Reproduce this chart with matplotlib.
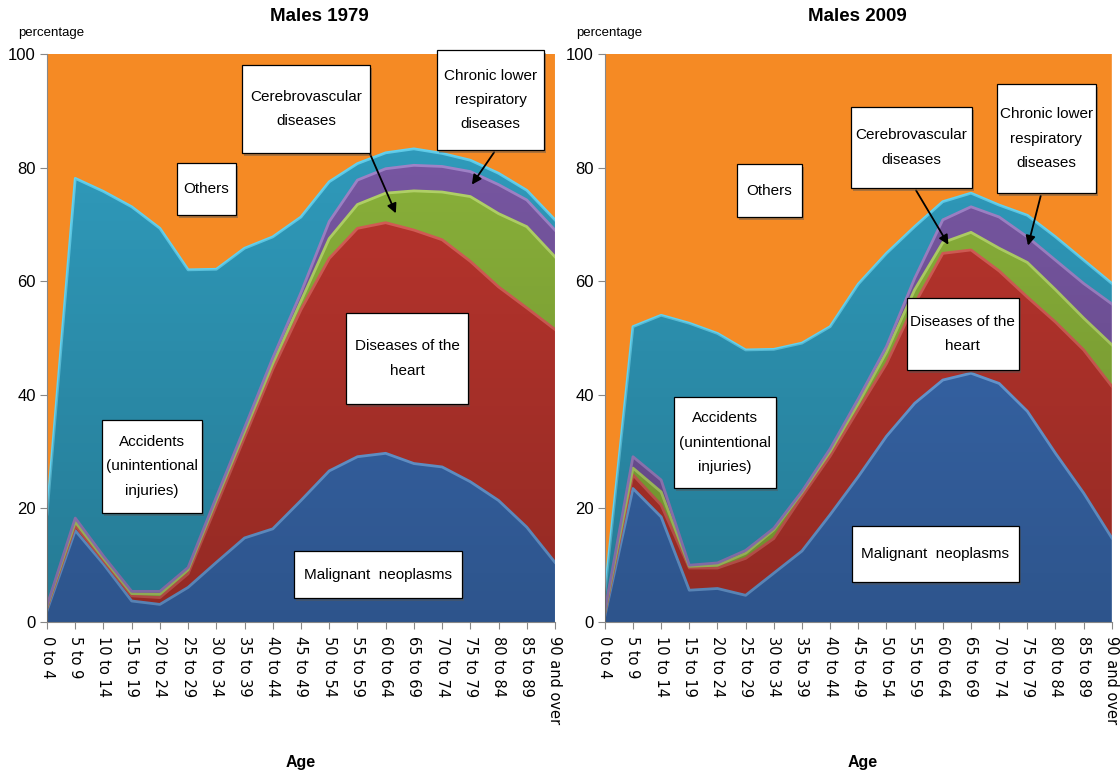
import numpy as np
import matplotlib.pyplot as plt
from matplotlib.patches import Polygon, Rectangle

plt.rcParams['font.family'] = ['Liberation Sans', 'DejaVu Sans']

ages = ['0 to 4', '5 to 9', '10 to 14', '15 to 19', '20 to 24', '25 to 29', '30 to 34',
        '35 to 39', '40 to 44', '45 to 49', '50 to 54', '55 to 59', '60 to 64', '65 to 69',
        '70 to 74', '75 to 79', '80 to 84', '85 to 89', '90 and over']

# share of deaths (%) by cause, males 1979
malignant79 = [2.0, 16.1, 10.2, 3.7, 3.1, 6.1, 10.5, 14.8, 16.4, 21.4, 26.6, 29.1, 29.7, 27.9, 27.3, 24.7, 21.4, 16.7, 10.5]
heart79 = [0.5, 0.9, 0.6, 0.9, 1.2, 2.4, 10.0, 17.7, 28.1, 33.6, 37.4, 40.2, 40.6, 41.1, 40.0, 38.8, 37.6, 38.6, 41.0]
cerebro79 = [0.2, 0.6, 0.4, 0.4, 0.6, 0.7, 1.0, 1.0, 1.0, 1.5, 3.5, 4.2, 5.2, 6.9, 8.4, 11.4, 12.9, 14.3, 12.8]
clrd79 = [0.2, 0.7, 0.4, 0.4, 0.5, 0.4, 0.5, 0.7, 1.0, 1.5, 3.0, 4.3, 4.3, 4.5, 4.5, 4.4, 5.1, 4.7, 4.7]
accidents79 = [16.1, 59.8, 64.2, 67.7, 63.9, 52.4, 40.1, 31.6, 21.3, 13.3, 7.0, 2.9, 2.8, 2.9, 2.3, 2.0, 2.0, 1.7, 1.8]

# share of deaths (%) by cause, males 2009
malignant09 = [1.0, 23.5, 18.5, 5.6, 5.9, 4.7, 8.6, 12.5, 18.9, 25.6, 32.7, 38.5, 42.6, 43.8, 42.0, 37.1, 29.7, 22.7, 14.8]
heart09 = [0.5, 2.4, 2.1, 3.9, 3.6, 6.5, 6.1, 9.6, 10.3, 11.8, 12.8, 17.5, 22.3, 21.7, 19.8, 20.1, 23.1, 25.2, 26.7]
cerebro09 = [0.2, 1.2, 2.3, 0.3, 0.5, 0.9, 1.5, 0.7, 0.8, 1.1, 2.0, 2.5, 1.9, 3.1, 4.0, 6.1, 5.7, 5.6, 7.3]
clrd09 = [0.2, 2.0, 2.1, 0.2, 0.4, 0.5, 0.3, 0.2, 0.5, 0.8, 1.0, 2.0, 4.0, 4.5, 5.5, 4.5, 5.2, 6.1, 7.2]
accidents09 = [3.1, 22.9, 29.0, 42.6, 40.4, 35.3, 31.5, 26.1, 21.5, 20.2, 16.4, 9.1, 3.2, 2.4, 2.1, 3.8, 4.1, 4.1, 3.6]

fills = ['#3C6FB8', '#C1372F', '#8FB83C', '#7C5AA8', '#31A0C2', '#F58A24']
edges = ['#72AAEA', '#E0625A', '#BADC6C', '#A688D0', '#62D2F0', '#F8A650']


def label_box(ax, x0, x1, y0, y1, s):
    # drop shadow then the white box, like the callouts in the original
    ax.add_patch(Rectangle((x0 + 0.07, y0 - 0.5), x1 - x0, y1 - y0, fc='#555555', ec='none',
                           alpha=0.45, zorder=6, clip_on=False))
    ax.add_patch(Rectangle((x0, y0), x1 - x0, y1 - y0, fc='white', ec='black', lw=0.9,
                           zorder=7, clip_on=False))
    ax.text((x0 + x1) / 2, (y0 + y1) / 2, s, ha='center', va='center', fontsize=11,
            linespacing=1.95, zorder=8)


def draw_panel(ax, title, layers, notes, arrows, title_x, age_x):
    x = np.arange(len(ages))
    layers = [np.array(v) for v in layers]
    others = 100 - np.sum(layers, axis=0)
    stack = layers + [others]
    ax.stackplot(x, *stack, colors=fills, lw=0, zorder=1)
    cum = np.cumsum(stack, axis=0)
    for top, c in zip(cum[:-1], edges):
        ax.plot(x, top, color=c, lw=2, zorder=2, solid_joinstyle='round')

    # darker toward the bottom, like the bevelled excel fill (not on "Others")
    grad = np.zeros((200, 1, 4))
    grad[:, 0, 3] = np.linspace(0.0, 0.24, 200)
    im = ax.imshow(grad, extent=[0, 18, 0, 100], aspect='auto', zorder=3)
    verts = np.column_stack([np.r_[x, x[::-1]], np.r_[cum[-2], np.zeros(len(x))]])
    clip = Polygon(verts, closed=True, fc='none', ec='none', transform=ax.transData)
    ax.add_patch(clip)
    im.set_clip_path(clip)

    for (x0, x1, y0, y1, s) in notes:
        label_box(ax, x0, x1, y0, y1, s)
    for (sx, sy, ex, ey) in arrows:
        ax.annotate('', xy=(ex, ey), xytext=(sx, sy), zorder=5,
                    arrowprops=dict(arrowstyle='-|>', color='black', lw=1.3, mutation_scale=14))

    ax.set_xlim(0, 18)
    ax.set_ylim(0, 100)
    ax.set_xticks(x)
    ax.set_xticklabels(ages, rotation=270, fontsize=10.5, family='DejaVu Sans', va='top', ha='center')
    ax.set_yticks(range(0, 101, 20))
    ax.tick_params(axis='y', labelsize=12, length=5, color='#888888', pad=3)
    ax.tick_params(axis='x', length=5, color='#888888', pad=5)
    for side in ['top', 'right']:
        ax.spines[side].set_visible(False)
    for side in ['left', 'bottom']:
        ax.spines[side].set_color('#888888')

    ax.text(title_x, 1.066, title, transform=ax.transAxes, ha='center', va='center',
            fontsize=13.5, fontweight='bold')
    ax.text(0.008, 1.037, 'percentage', transform=ax.transAxes, ha='center', va='center', fontsize=9.5)
    ax.text(age_x, -0.248, 'Age', transform=ax.transAxes, ha='center', va='center',
            fontsize=11.5, fontweight='bold')


fig = plt.figure(figsize=(11.2, 7.78), dpi=100)
ax1 = fig.add_axes([0.042, 0.2005, 0.4535, 0.7301])
ax2 = fig.add_axes([0.540, 0.2005, 0.4527, 0.7301])

draw_panel(ax1, 'Males 1979', [malignant79, heart79, cerebro79, clrd79, accidents79],
           [(4.61, 6.70, 71.7, 80.8, 'Others'),
            (6.91, 11.45, 82.6, 98.1, 'Cerebrovascular\ndiseases'),
            (13.83, 17.62, 83.1, 100.7, 'Chronic lower\nrespiratory\ndiseases'),
            (10.60, 14.93, 38.4, 54.4, 'Diseases of the\nheart'),
            (1.95, 5.50, 19.2, 35.6, 'Accidents\n(unintentional\ninjuries)'),
            (8.76, 14.72, 4.2, 12.5, 'Malignant  neoplasms')],
           [(11.35, 83.5, 12.4, 71.5), (15.9, 83.1, 15.0, 76.6)],
           0.537, 0.5)

draw_panel(ax2, 'Males 2009', [malignant09, heart09, cerebro09, clrd09, accidents09],
           [(4.69, 6.99, 71.3, 80.6, 'Others'),
            (8.73, 13.03, 76.4, 90.7, 'Cerebrovascular\ndiseases'),
            (13.92, 17.43, 75.5, 94.7, 'Chronic lower\nrespiratory\ndiseases'),
            (10.72, 14.70, 44.4, 57.0, 'Diseases of the\nheart'),
            (2.45, 6.07, 23.6, 39.6, 'Accidents\n(unintentional\ninjuries)'),
            (8.77, 14.70, 7.0, 16.9, 'Malignant  neoplasms')],
           [(11.0, 76.4, 12.25, 66.0), (15.5, 75.5, 15.0, 65.8)],
           0.498, 0.508)

fig.savefig('out.png', dpi=100)
